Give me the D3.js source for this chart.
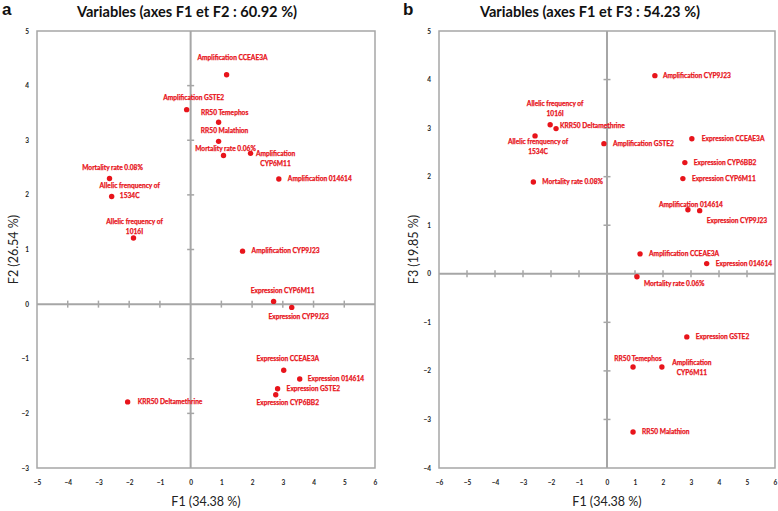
<!DOCTYPE html>
<html><head><meta charset="utf-8">
<script src="https://cdn.jsdelivr.net/npm/d3@7"></script>
<style>
body{margin:0;background:#fff;}
svg{display:block;}
</style></head>
<body>
<svg id="chart" width="778" height="511"></svg>
<script>
// ---------- DATA ----------
const namesA = ["Amplification CCEAE3A","Amplification GSTE2","RR50 Temephos","RR50 Malathion","Mortality rate 0.06%",
  "Amplification|CYP6M11","Amplification 014614","Mortality rate 0.08%","Allelic frenquency of|1534C","Allelic frequency of|1016I",
  "Amplification CYP9J23","Expression CYP6M11","Expression CYP9J23","Expression CCEAE3A","Expression 014614",
  "Expression GSTE2","Expression CYP6BB2","KRR50 Deltamethrine"];
const f1A = [1.17,-0.13,0.91,0.91,1.07,1.95,2.87,-2.64,-2.57,-1.86,1.69,2.70,3.29,3.03,3.55,2.83,2.77,-2.05];
const f2A = [4.20,3.56,3.33,2.98,2.72,2.76,2.29,2.30,1.97,1.21,0.97,0.05,-0.06,-1.21,-1.37,-1.55,-1.66,-1.79];

const namesB = ["Amplification CYP9J23","Allelic frequency of|1016I","KRR50 Deltamethrine","Allelic frenquency of|1534C",
  "Amplification GSTE2","Mortality rate 0.08%","Expression CCEAE3A","Expression CYP6BB2","Expression CYP6M11",
  "Amplification 014614","Expression CYP9J23","Amplification CCEAE3A","Expression 014614","Mortality rate 0.06%",
  "Expression GSTE2","RR50 Temephos","Amplification|CYP6M11","RR50 Malathion"];
const f1B = [1.71,-2.03,-1.82,-2.57,-0.11,-2.63,3.03,2.78,2.71,2.89,3.31,1.18,3.56,1.07,2.85,0.93,1.96,0.93];
const f3B = [4.08,3.07,2.99,2.84,2.68,1.89,2.78,2.29,1.96,1.32,1.30,0.41,0.21,-0.06,-1.30,-1.92,-1.92,-3.26];

const xTicksA = [-5,-4,-3,-2,-1,0,1,2,3,4,5,6];
const yTicksA = [-3,-2,-1,0,1,2,3,4,5];
const xTicksB = [-6,-5,-4,-3,-2,-1,0,1,2,3,4,5,6];
const yTicksB = [-4,-3,-2,-1,0,1,2,3,4,5];

// ---------- LABEL LAYOUT (anchor, dx, dy of first line, px) ----------
const layoutA = [["middle",6,-17],["middle",7,-12],["middle",6,-10],["middle",6,-11],["middle",2,-7],
  ["middle",25,0],["start",9,0],["middle",3,-11],["middle",18,-11],["middle",1,-16],
  ["start",9,0],["middle",9,-11],["middle",7,9],["middle",4,-12],["start",8,0],
  ["start",9,0],["middle",12,8],["start",10,0]];
const layoutB = [["start",8,0],["middle",5,-21],["start",4,-3],["middle",3,6],["start",9,0],["start",9,0],
  ["start",10,0],["start",9,0],["start",9,0],["middle",3,-5],["start",7,10],["start",9,0],["start",9,0],
  ["start",7,7],["start",9,0],["middle",5,-8],["middle",30,-4],["start",9,0]];

const RED = "#e8141b";
const GRAY = "#a6a6a6";
const svg = d3.select("#chart");

function panel(cfg){
  const g = svg.append("g");
  const x = d3.scaleLinear().domain(cfg.xDom).range([cfg.x0, cfg.x1]);
  const y = d3.scaleLinear().domain(cfg.yDom).range([cfg.y1, cfg.y0]);

  // zero axes
  g.append("line").attr("x1",x(0)).attr("x2",x(0)).attr("y1",cfg.y0).attr("y2",cfg.y1)
    .attr("stroke",GRAY).attr("stroke-width",2);
  g.append("line").attr("x1",cfg.x0).attr("x2",cfg.x1).attr("y1",y(0)).attr("y2",y(0))
    .attr("stroke",GRAY).attr("stroke-width",2);
  // ticks on zero axes
  g.selectAll(".xt").data(cfg.xTicks.filter(d=>d!==0 && d!==cfg.xDom[0] && d!==cfg.xDom[1])).enter().append("line")
    .attr("x1",d=>x(d)).attr("x2",d=>x(d)).attr("y1",y(0)-3.5).attr("y2",y(0)+3.5)
    .attr("stroke",GRAY).attr("stroke-width",1.5);
  g.selectAll(".yt").data(cfg.yTicks.filter(d=>d!==0 && d!==cfg.yDom[0] && d!==cfg.yDom[1])).enter().append("line")
    .attr("x1",x(0)-3.5).attr("x2",x(0)+3.5).attr("y1",d=>y(d)).attr("y2",d=>y(d))
    .attr("stroke",GRAY).attr("stroke-width",1.5);
  // frame
  g.append("rect").attr("x",cfg.x0).attr("y",cfg.y0).attr("width",cfg.x1-cfg.x0).attr("height",cfg.y1-cfg.y0)
    .attr("fill","none").attr("stroke",GRAY).attr("stroke-width",1.5);

  // tick labels via axes
  const ax = d3.axisBottom(x).tickValues(cfg.xTicks).tickSize(0).tickPadding(0).tickFormat(d3.format("d"));
  const gx = g.append("g").attr("transform",`translate(0,${cfg.y1+15})`).call(ax);
  gx.select(".domain").remove();
  const ay = d3.axisLeft(y).tickValues(cfg.yTicks).tickSize(0).tickPadding(0).tickFormat(d3.format("d"));
  const gy = g.append("g").attr("transform",`translate(${cfg.x0-8},0)`).call(ay);
  gy.select(".domain").remove();
  g.selectAll(".tick text").attr("font-family","Lato, sans-serif").attr("font-weight","bold")
    .attr("font-size",6.5).attr("fill","#222");
  gx.selectAll(".tick text").attr("dy","0.32em").attr("y",0);

  // axis titles
  g.append("text").attr("x",(cfg.x0+cfg.x1)/2).attr("y",503).attr("text-anchor","middle")
    .attr("dominant-baseline","middle").attr("font-family","Lato, sans-serif").attr("font-size",12.5)
    .attr("fill","#222").text(cfg.xTitle);
  g.append("text").attr("transform",`translate(${cfg.yTitleX},${(cfg.y0+cfg.y1)/2}) rotate(-90)`)
    .attr("text-anchor","middle").attr("dominant-baseline","middle").attr("font-family","Lato, sans-serif")
    .attr("font-size",12.5).attr("fill","#222").text(cfg.yTitle);
  // title
  g.append("text").attr("x",cfg.titleX).attr("y",13).attr("text-anchor","middle").attr("dominant-baseline","middle")
    .attr("font-family","Lato, sans-serif").attr("font-weight","bold").attr("font-size",14.6)
    .attr("fill","#111").text(cfg.title);
  g.append("text").attr("x",cfg.letterX).attr("y",11).attr("dominant-baseline","middle")
    .attr("font-family","'Liberation Sans', Arial, sans-serif").attr("font-weight","bold").attr("font-size",17)
    .attr("fill","#111").text(cfg.letter);

  // points
  const data = cfg.names.map((n,i)=>({name:n, vx:cfg.xs[i], vy:cfg.ys[i], lay:cfg.layout[i]}));
  g.selectAll(".pt").data(data).enter().append("circle")
    .attr("cx",d=>x(d.vx)).attr("cy",d=>y(d.vy)).attr("r",2.7).attr("fill",RED);
  const lbl = g.selectAll(".lb").data(data).enter().append("text")
    .attr("x",d=>x(d.vx)+d.lay[1]).attr("y",d=>y(d.vy)+d.lay[2])
    .attr("text-anchor",d=>d.lay[0]).attr("font-family","Lato, sans-serif").attr("font-weight","bold")
    .attr("font-size",6.6).attr("fill",RED).attr("stroke",RED).attr("stroke-width",0.25);
  lbl.each(function(d){
    const t = d3.select(this);
    d.name.split("|").forEach((s,k)=>{
      t.append("tspan").attr("x",x(d.vx)+d.lay[1]).attr("y",y(d.vy)+d.lay[2]+k*10).attr("dy","0.35em").text(s);
    });
  });
}

panel({x0:37,x1:375,y0:31,y1:468,xDom:[-5,6],yDom:[-3,5],xTicks:xTicksA,yTicks:yTicksA,
  names:namesA,xs:f1A,ys:f2A,layout:layoutA,title:"Variables (axes F1 et F2 : 60.92 %)",titleX:187,
  letter:"a",letterX:2,xTitle:"F1 (34.38 %)",yTitle:"F2 (26.54 %)",yTitleX:15});
panel({x0:439,x1:775,y0:31,y1:468,xDom:[-6,6],yDom:[-4,5],xTicks:xTicksB,yTicks:yTicksB,
  names:namesB,xs:f1B,ys:f3B,layout:layoutB,title:"Variables (axes F1 et F3 : 54.23 %)",titleX:590,
  letter:"b",letterX:403,xTitle:"F1 (34.38 %)",yTitle:"F3 (19.85 %)",yTitleX:415});
</script>
</body></html>
